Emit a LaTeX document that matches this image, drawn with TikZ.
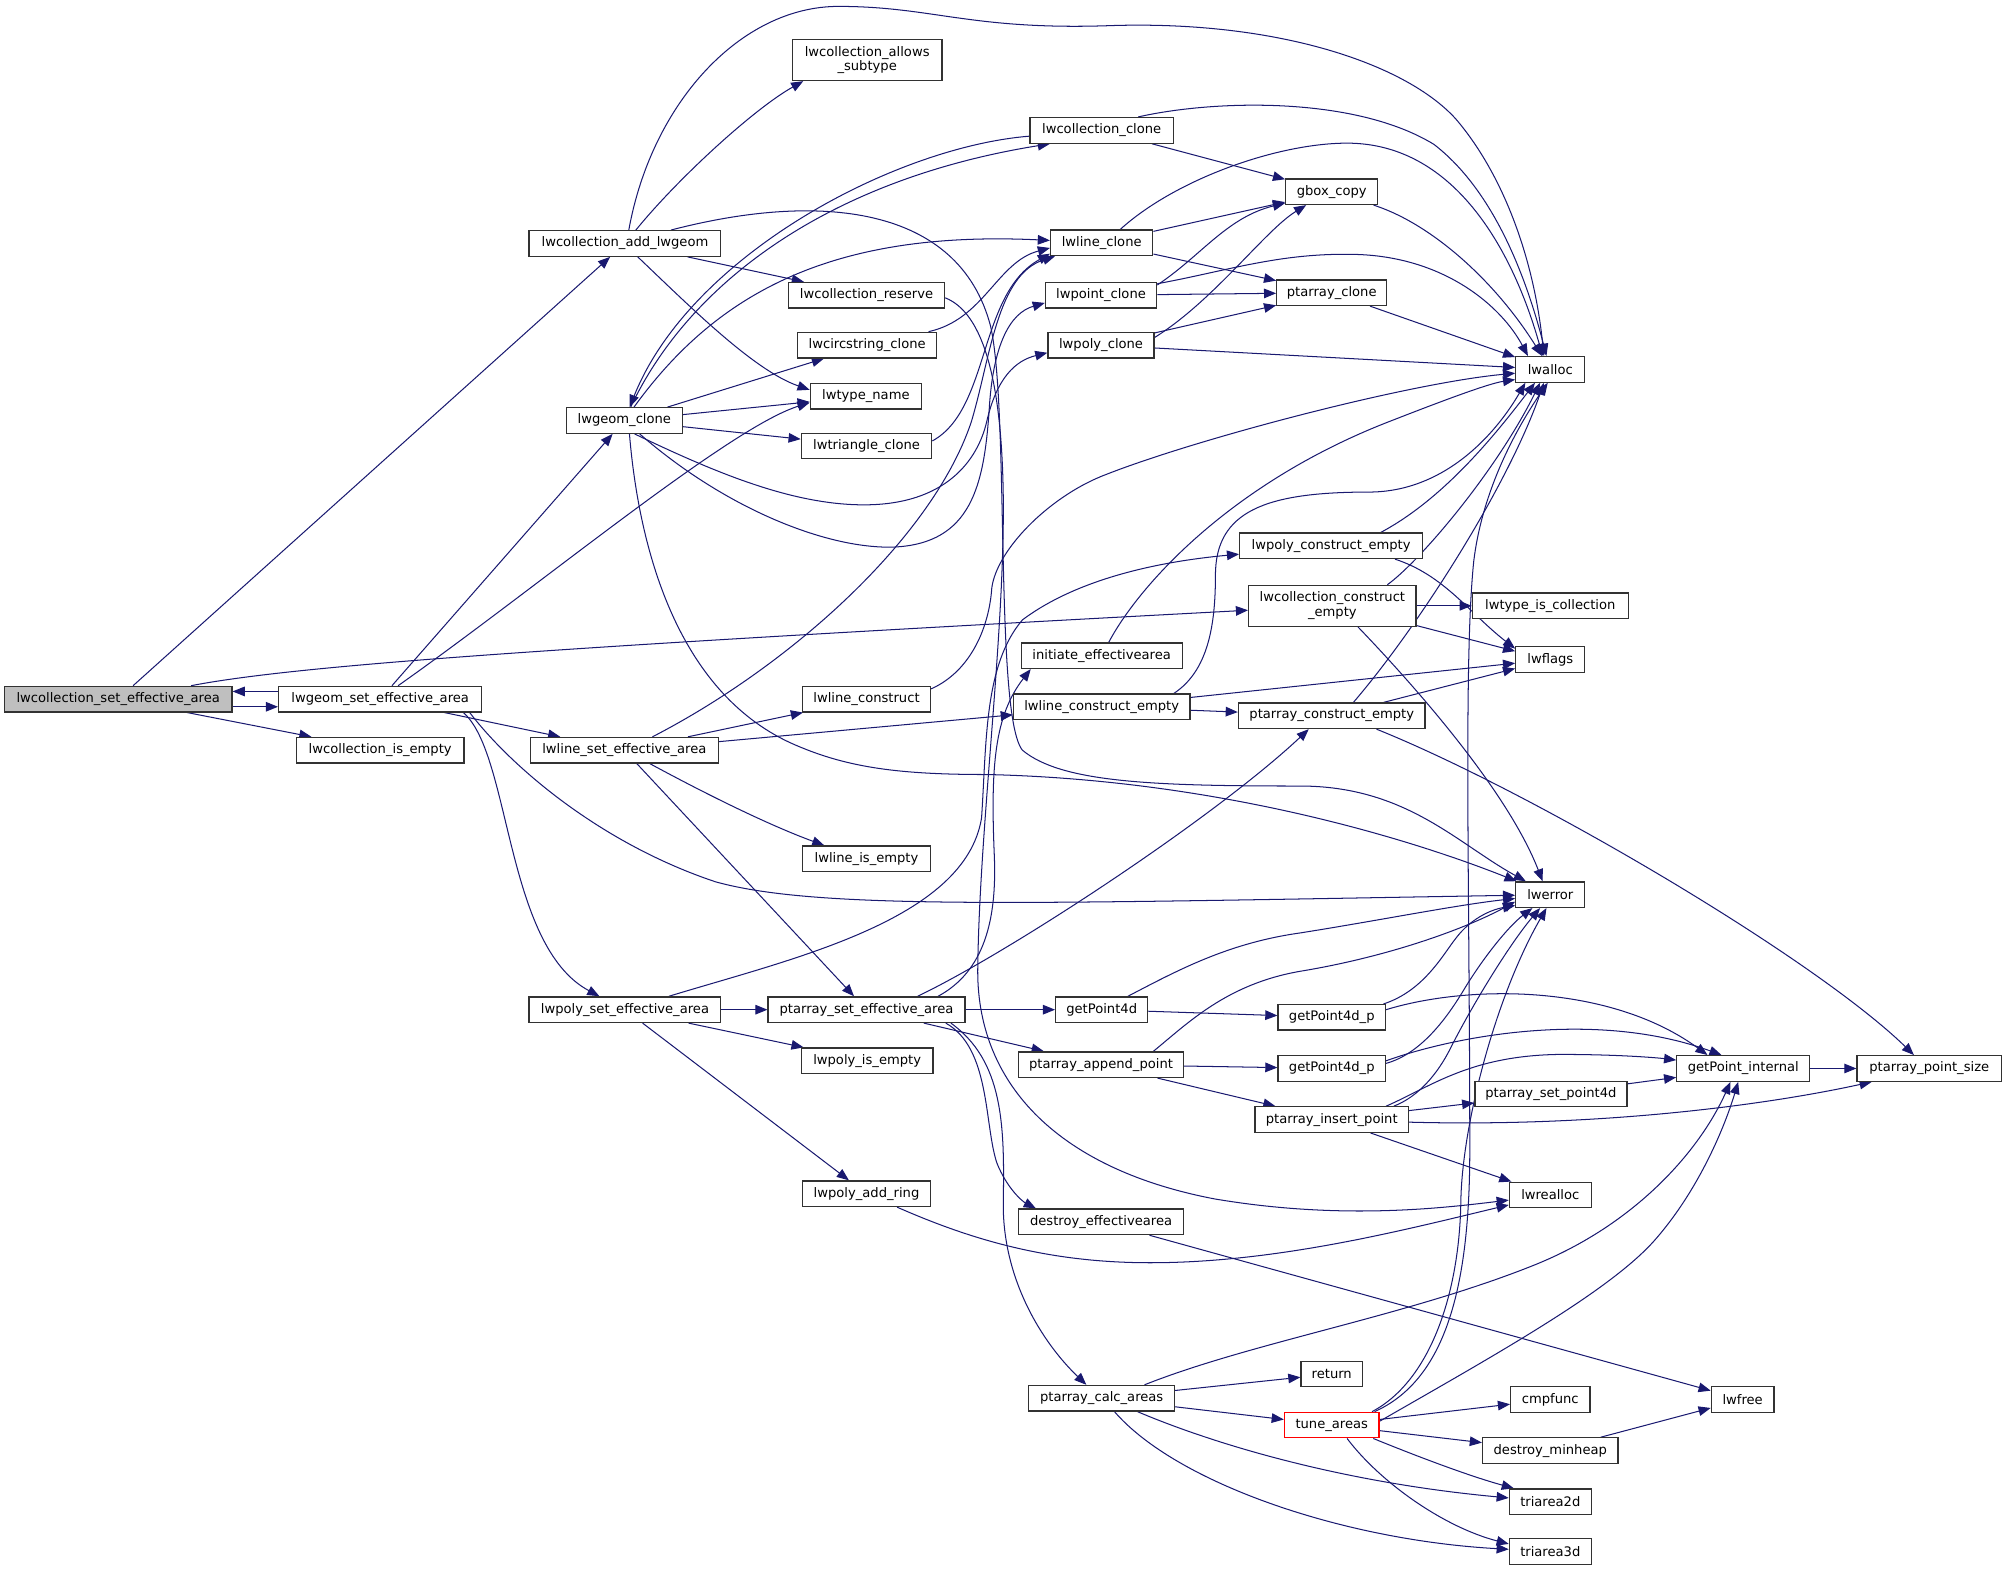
\documentclass[tikz,border=0pt]{standalone}
\usepackage{fontspec}
\setmainfont{DejaVu Sans}
\usetikzlibrary{arrows.meta,calc}
\definecolor{edgec}{RGB}{25,25,112}
\definecolor{rootfill}{RGB}{191,191,191}
\definecolor{boxline}{RGB}{50,50,50}
\pgfdeclarelayer{edges}
\pgfsetlayers{edges,main}
\tikzset{
  box/.style={draw=boxline, line width=1bp, fill=white, minimum height=20bp, inner sep=0pt,
    font=\fontsize{10.3}{11.5}\selectfont, text=black, align=center},
  e/.style={draw=edgec, line width=0.8bp, -{Triangle[length=9.5bp,width=7.5bp]}},
}
\begin{document}
\begin{tikzpicture}[x=1bp,y=-1bp]
\useasboundingbox (0,0) rectangle (1568,1228);
% nodes
\node[box, fill=rootfill, minimum width=178bp] (A) at (92.5,547) {lwcollection\_set\_effective\_area};
\node[box, minimum width=159bp] (G) at (297.5,547) {lwgeom\_set\_effective\_area};
\node[box, minimum width=131bp] (CE) at (297.5,587) {lwcollection\_is\_empty};
\node[box, minimum width=150bp] (AL) at (489,190.5) {lwcollection\_add\_lwgeom};
\node[box, minimum width=117bp, minimum height=32bp] (AS) at (678.5,47) {lwcollection\_allows\\\_subtype};
\node[box, minimum width=112bp] (CC) at (862,102) {lwcollection\_clone};
\node[box, minimum width=91bp] (GC) at (488.5,329) {lwgeom\_clone};
\node[box, minimum width=122bp] (CR) at (678,231) {lwcollection\_reserve};
\node[box, minimum width=109bp] (CSC) at (678.5,270) {lwcircstring\_clone};
\node[box, minimum width=87bp] (TN) at (677.5,310) {lwtype\_name};
\node[box, minimum width=102bp] (TC) at (678,349) {lwtriangle\_clone};
\node[box, minimum width=80bp] (LC) at (862,190) {lwline\_clone};
\node[box, minimum width=87bp] (PC) at (861.5,231) {lwpoint\_clone};
\node[box, minimum width=83bp] (PLC) at (861.5,270) {lwpoly\_clone};
\node[box, minimum width=72bp] (GB) at (1042,150) {gbox\_copy};
\node[box, minimum width=86bp] (PAC) at (1042,229) {ptarray\_clone};
\node[box, minimum width=54bp] (LA) at (1213,289) {lwalloc};
\node[box, minimum width=147bp] (LSE) at (488.5,587) {lwline\_set\_effective\_area};
\node[box, minimum width=100bp] (LCON) at (678,547) {lwline\_construct};
\node[box, minimum width=126bp] (IEA) at (862,513) {initiate\_effectivearea};
\node[box, minimum width=138bp] (LCE) at (862,553) {lwline\_construct\_empty};
\node[box, minimum width=143bp] (PCE) at (1041.5,427) {lwpoly\_construct\_empty};
\node[box, minimum width=131bp, minimum height=32bp] (CCE) at (1042.5,474) {lwcollection\_construct\\\_empty};
\node[box, minimum width=122bp] (TIC) at (1213,474) {lwtype\_is\_collection};
\node[box, minimum width=54bp] (LF) at (1213,516) {lwflags};
\node[box, minimum width=146bp] (PACE) at (1042,560) {ptarray\_construct\_empty};
\node[box, minimum width=54bp] (LE) at (1213,700) {lwerror};
\node[box, minimum width=100bp] (LIE) at (678,672) {lwline\_is\_empty};
\node[box, minimum width=150bp] (PSE) at (489,790) {lwpoly\_set\_effective\_area};
\node[box, minimum width=154bp] (PTSE) at (678,790) {ptarray\_set\_effective\_area};
\node[box, minimum width=72bp] (GP4) at (862,790) {getPoint4d};
\node[box, minimum width=129bp] (PAP) at (861.5,833) {ptarray\_append\_point};
\node[box, minimum width=103bp] (LPI) at (678.5,830) {lwpoly\_is\_empty};
\node[box, minimum width=100bp] (LPAR) at (678,934) {lwpoly\_add\_ring};
\node[box, minimum width=129bp] (DEA) at (861.5,956) {destroy\_effectivearea};
\node[box, minimum width=114bp] (PCA) at (862,1094) {ptarray\_calc\_areas};
\node[box, minimum width=84bp] (GPA) at (1042,796) {getPoint4d\_p};
\node[box, minimum width=84bp] (GPB) at (1042,836) {getPoint4d\_p};
\node[box, minimum width=120bp] (PIP) at (1042,876) {ptarray\_insert\_point};
\node[box, minimum width=119bp] (SP4D) at (1213.5,856) {ptarray\_set\_point4d};
\node[box, minimum width=104bp] (GPI) at (1364,836) {getPoint\_internal};
\node[box, minimum width=113bp] (PPS) at (1509.5,836) {ptarray\_point\_size};
\node[box, minimum width=64bp] (LRA) at (1213,935) {lwrealloc};
\node[box, minimum width=48bp] (RET) at (1042,1075) {return};
\node[box, minimum width=62bp] (CMP) at (1213,1095) {cmpfunc};
\node[box, minimum width=49bp] (LFR) at (1363.5,1095) {lwfree};
\node[box, draw=red, minimum width=74bp] (TA) at (1042,1115) {tune\_areas};
\node[box, minimum width=106bp] (DMH) at (1213,1135) {destroy\_minheap};
\node[box, minimum width=64bp] (T2D) at (1213,1175) {triarea2d};
\node[box, minimum width=64bp] (T3D) at (1213,1214) {triarea3d};

\begin{pgfonlayer}{edges}
% root
\draw[e] (A) -- (AL);
\draw[e] ([yshift=-6bp]A.east) -- ([yshift=-6bp]G.west);
\draw[e] ([yshift=6bp]G.west) -- ([yshift=6bp]A.east);
\draw[e] (A) -- (CE);
\draw[e] ($(A.north)+(57,0)$) .. controls (230,521) and (420,507) .. (CCE);
% lwgeom_set_effective_area
\draw[e] (G) -- (GC);
\draw[e] ($(G.north)+(14,0)$) .. controls (420,460) and (570,335) .. ($(TN.west)+(0,5)$);
\draw[e] (G) -- (LSE);
\draw[e] ($(G.south)+(65,0)$) .. controls (400,590) and (395,740) .. ($(PSE.north)+(-20,0)$);
\draw[e] ($(G.south)+(70,0)$) .. controls (400,600) and (470,660) .. (560,690) .. controls (640,712) and (800,707) .. (LE);
% lwcollection_add_lwgeom
\draw[e] (AL) .. controls (530,140) and (590,85) .. ($(AS.south)+(-50,0)$);
\draw[e] ($(AL.north)+(3,0)$) .. controls (510,80) and (580,5) .. (656,5) .. controls (730,5) and (760,24) .. (870,20) .. controls (1000,16) and (1100,50) .. (1139,93) .. controls (1175,135) and (1200,200) .. ($(LA.north)+(-5,0)$);
\draw[e] (AL) -- (CR);
\draw[e] ($(AL.south)+(10,0)$) .. controls (540,240) and (590,290) .. ($(TN.west)+(0,-5)$);
\draw[e] ($(AL.north)+(36,0)$) .. controls (640,150) and (750,160) .. (775,255) .. controls (790,320) and (778,560) .. (800,587) .. controls (830,612) and (900,615) .. (1017,615) .. controls (1100,615) and (1140,660) .. (LE);
% lwgeom_clone
\draw[e] (GC) .. controls (540,220) and (650,140) .. ($(CC.south west)+(16,0)$);
\draw[e] (CC) .. controls (700,115) and (540,200) .. (GC);
\draw[e] (GC) .. controls (560,230) and (650,180) .. (LC);
\draw[e] (GC) -- (CSC);
\draw[e] (GC) -- (TN);
\draw[e] (GC) -- (TC);
\draw[e] ($(GC.south)+(12,0)$) .. controls (570,400) and (650,430) .. (700,428) .. controls (760,425) and (770,380) .. (774,320) .. controls (777,270) and (790,245) .. ($(PC.west)+(0,6)$);
\draw[e] ($(GC.south)+(8,0)$) .. controls (560,370) and (620,395) .. (676,395) .. controls (740,395) and (765,360) .. (772,330) .. controls (780,295) and (795,282) .. ($(PLC.west)+(0,6)$);
\draw[e] ($(GC.south)+(4,0)$) .. controls (500,430) and (530,540) .. (618,581) .. controls (660,600) and (700,606) .. (772,606) .. controls (950,610) and (1100,655) .. (LE);
% to lwline_clone
\draw[e] (CSC) .. controls (770,250) and (780,205) .. ($(LC.west)+(0,4)$);
\draw[e] ($(TC.east)+(0,-4)$) .. controls (775,320) and (765,230) .. ($(LC.south west)+(0,-2)$);
\draw[e] ($(LSE.north)+(22,0)$) .. controls (620,520) and (730,420) .. (760,330) .. controls (775,280) and (780,215) .. ($(LC.south west)+(4,0)$);
% clones
\draw[e] (LC) -- (GB);
\draw[e] (LC) -- (PAC);
\draw[e] ($(LC.north east)+(-26,0)$) .. controls (920,140) and (1000,112) .. (1054,112) .. controls (1140,112) and (1185,200) .. ($(LA.north)+(-6,0)$);
\draw[e] (CC) -- (GB);
\draw[e] ($(CC.north east)+(-28,0)$) .. controls (950,78) and (1060,75) .. (1122,113) .. controls (1170,150) and (1195,220) .. ($(LA.north)+(-3,0)$);
\draw[e] ($(PC.east)+(0,-8)$) .. controls (940,200) and (960,170) .. (GB);
\draw[e] ($(PC.east)+(0,-9)$) .. controls (960,212) and (1000,198) .. (1058,199) .. controls (1130,200) and (1175,240) .. ($(LA.north west)+(10,0)$);
\draw[e] (PC) -- (PAC);
\draw[e] ($(PLC.east)+(0,-6)$) .. controls (950,235) and (990,180) .. ($(GB.south)+(-20,0)$);
\draw[e] (PLC) -- (PAC);
\draw[e] (PLC) -- (LA);
\draw[e] (PAC) -- (LA);
\draw[e] (GB) .. controls (1120,175) and (1170,220) .. (LA);
% lwline_set_effective_area
\draw[e] (LSE) -- (LCON);
\draw[e] (LSE) -- (LCE);
\draw[e] ($(LSE.south)+(20,0)$) .. controls (550,620) and (600,645) .. ($(LIE.north)+(-33,0)$);
\draw[e] (LSE) -- (PTSE);
% to lwalloc from below
\draw[e] ($(LCON.east)+(0,-8)$) .. controls (760,525) and (774,490) .. (776,460) .. controls (780,430) and (820,390) .. (861,373) .. controls (930,345) and (1100,300) .. ($(LA.west)+(0,3)$);
\draw[e] (IEA) .. controls (890,460) and (960,380) .. (1084,331) .. controls (1130,313) and (1165,300) .. ($(LA.west)+(0,8)$);
\draw[e] ($(LCE.north east)+(-13,0)$) .. controls (945,525) and (951,490) .. (951,450) .. controls (951,400) and (990,385) .. (1071,385) .. controls (1130,385) and (1170,340) .. ($(LA.south west)+(8,0)$);
\draw[e] ($(PCE.north east)+(-33,0)$) .. controls (1130,390) and (1170,340) .. ($(LA.south)+(-12,0)$);
\draw[e] ($(CCE.north east)+(-23,0)$) .. controls (1110,440) and (1170,370) .. ($(LA.south)+(-8,0)$);
\draw[e] ($(PACE.north)+(17,0)$) .. controls (1110,490) and (1180,380) .. ($(LA.south)+(-5,0)$);
\draw[e] ($(TA.north east)+(-4,0)$) .. controls (1130,1080) and (1150,1010) .. (1150,900) .. controls (1150,700) and (1145,520) .. (1153,440) .. controls (1160,380) and (1190,330) .. ($(LA.south)+(-2,0)$);
% lwpoly_set_effective_area
\draw[e] (PSE) .. controls (620,750) and (755,720) .. (768,640) .. controls (772,580) and (770,520) .. (800,485) .. controls (840,455) and (900,440) .. (PCE);
\draw[e] (PSE) -- (PTSE);
\draw[e] (PSE) -- (LPI);
\draw[e] (PSE) -- (LPAR);
% construct empty
\draw[e] ($(PCE.south)+(50,0)$) .. controls (1130,450) and (1150,480) .. ($(LF.north west)+(0,2)$);
\draw[e] (CCE) -- (TIC);
\draw[e] ($(CCE.south east)+(0,-1)$) -- ($(LF.north west)+(0,4)$);
\draw[e] ($(CCE.south)+(20,0)$) .. controls (1110,540) and (1180,620) .. ($(LE.north)+(-6,0)$);
\draw[e] (LCE) -- (LF);
\draw[e] (LCE) -- (PACE);
\draw[e] (PACE) -- (LF);
\draw[e] ($(PACE.south)+(35,0)$) .. controls (1200,620) and (1420,750) .. ($(PPS.north)+(-12,0)$);
% ptarray_set_effective_area
\draw[e] ($(PTSE.north)+(56,0)$) .. controls (770,760) and (780,720) .. (778,670) .. controls (775,600) and (778,560) .. ($(IEA.south west)+(8,0)$);
\draw[e] ($(PTSE.north)+(40,0)$) .. controls (790,745) and (950,640) .. ($(PACE.south)+(-18,0)$);
\draw[e] (PTSE) -- (GP4);
\draw[e] (PTSE) -- (PAP);
\draw[e] ($(PTSE.south)+(62,0)$) .. controls (775,820) and (770,880) .. (780,910) .. controls (788,930) and (800,940) .. ($(DEA.north west)+(14,0)$);
\draw[e] ($(PTSE.south)+(66,0)$) .. controls (785,830) and (786,880) .. (785,940) .. controls (784,1000) and (815,1050) .. ($(PCA.north)+(-12,0)$);
% getPoint4d
\draw[e] (GP4) -- (GPA);
\draw[e] ($(GP4.north east)+(-16,0)$) .. controls (920,760) and (960,738) .. (1017,730) .. controls (1080,720) and (1140,708) .. ($(LE.west)+(0,3)$);
\draw[e] ($(GPA.north east)+(-2,0)$) .. controls (1115,775) and (1130,745) .. (1140,733) .. controls (1150,720) and (1165,712) .. ($(LE.south west)+(0,-2)$);
\draw[e] ($(GPA.east)+(0,-6)$) .. controls (1150,770) and (1260,770) .. ($(GPI.north)+(-28,0)$);
\draw[e] ($(GPB.east)+(0,-4)$) .. controls (1110,825) and (1130,800) .. (1145,775) .. controls (1160,750) and (1180,725) .. ($(LE.south)+(-14,0)$);
\draw[e] ($(GPB.east)+(0,-6)$) .. controls (1140,810) and (1250,790) .. ($(GPI.north)+(-17,0)$);
% ptarray_append_point
\draw[e] (PAP) -- (GPB);
\draw[e] (PAP) -- (PIP);
\draw[e] ($(PAP.north east)+(-24,0)$) .. controls (930,800) and (960,770) .. (1017,760) .. controls (1090,748) and (1150,725) .. ($(LE.south west)+(0,-5)$);
% ptarray_insert_point
\draw[e] (PIP) -- (SP4D);
\draw[e] ($(PIP.north east)+(-18,0)$) .. controls (1120,850) and (1150,826) .. (1220,825) .. controls (1270,825) and (1300,828) .. (GPI);
\draw[e] ($(PIP.east)+(0,2)$) .. controls (1250,882) and (1380,865) .. ($(PPS.south west)+(12,0)$);
\draw[e] (PIP) -- (LRA);
\draw[e] ($(PIP.north east)+(-12,0)$) .. controls (1110,858) and (1125,840) .. (1135,820) .. controls (1150,790) and (1180,740) .. ($(LE.south)+(-8,0)$);
\draw[e] (SP4D) -- (GPI);
\draw[e] (GPI) -- (PPS);
% lwrealloc
\draw[e] (LPAR) .. controls (760,970) and (820,988) .. (900,988) .. controls (1000,988) and (1100,962) .. (LRA);
\draw[e] ($(CR.east)+(0,2)$) .. controls (770,245) and (784,300) .. (785,390) .. controls (786,500) and (766,650) .. (765,760) .. controls (765,850) and (830,915) .. (950,938) .. controls (1050,955) and (1130,945) .. ($(LRA.west)+(0,4)$);
% free
\draw[e] (DEA) -- (LFR);
\draw[e] (DMH) -- (LFR);
% ptarray_calc_areas
\draw[e] ($(PCA.north east)+(-24,0)$) .. controls (980,1050) and (1100,1030) .. (1200,990) .. controls (1280,958) and (1330,900) .. ($(GPI.south)+(-10,0)$);
\draw[e] (PCA) -- (RET);
\draw[e] (PCA) -- (TA);
\draw[e] ($(PCA.south)+(28,0)$) .. controls (950,1130) and (1050,1160) .. (T2D);
\draw[e] ($(PCA.south)+(10,0)$) .. controls (920,1160) and (1050,1205) .. (T3D);
% tune_areas
\draw[e] (TA) -- (CMP);
\draw[e] (TA) -- (DMH);
\draw[e] ($(TA.south east)+(-5,0)$) .. controls (1110,1140) and (1150,1155) .. ($(T2D.north west)+(4,0)$);
\draw[e] ($(TA.south)+(12,0)$) .. controls (1080,1160) and (1130,1195) .. ($(T3D.west)+(0,-6)$);
\draw[e] ($(TA.east)+(0,-3)$) .. controls (1170,1060) and (1260,1010) .. (1295,970) .. controls (1330,930) and (1350,880) .. ($(GPI.south)+(-4,0)$);
\draw[e] ($(TA.north east)+(-6,0)$) .. controls (1120,1080) and (1142,1010) .. (1143,940) .. controls (1144,880) and (1170,780) .. ($(LE.south)+(-3,0)$);
\end{pgfonlayer}
\end{tikzpicture}
\end{document}
